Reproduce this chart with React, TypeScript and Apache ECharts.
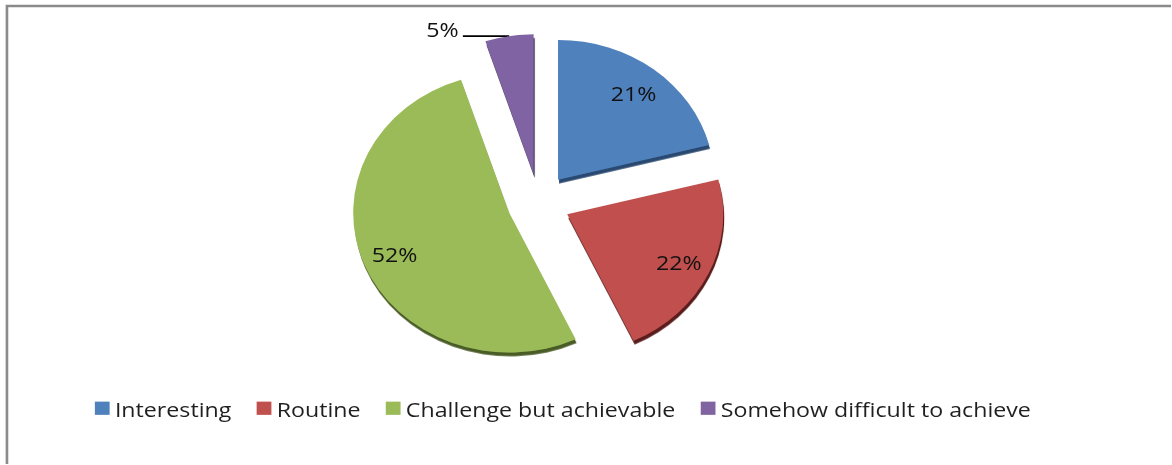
import React, { useEffect, useRef } from "react";
import * as echarts from "echarts";

const categories = [
  "Interesting",
  "Routine",
  "Challenge but achievable",
  "Somehow difficult to achieve",
];
const shares = [21, 22, 52, 5];
const sliceColors = ["#4F81BD", "#C0504D", "#9BBB59", "#8064A2"];
const shadowColors = ["#2c4a70", "#5a1e1c", "#4a5c26", "#2e2240"];

// the original picture is slightly stretched horizontally / squashed vertically
const SX = 1.054;
const SY = 0.945;
const CENTER = [511, 214];
const R = 148;
const OFFSET = 30;
const FONT = "'Open Sans', 'Noto Sans', sans-serif";

export default function App() {
  const ref = useRef<HTMLDivElement>(null);

  useEffect(() => {
    if (!ref.current) return;
    const chart = echarts.init(ref.current, undefined, { renderer: "svg" });

    const sliceData = categories.map((name, i) => ({
      name,
      value: shares[i],
      selected: true,
      itemStyle: {
        color: sliceColors[i],
        shadowColor: shadowColors[i],
        shadowOffsetX: 1,
        shadowOffsetY: 4,
        shadowBlur: 1,
      },
    }));

    const labelData = categories.map((name, i) => {
      const outside = i === 3;
      return {
        name,
        value: shares[i],
        selected: true,
        itemStyle: { color: "rgba(0,0,0,0)" },
        label: outside
          ? {
              position: "outside" as const,
              distanceToLabelLine: 4,
              formatter: "{p|{c}%}",
              rich: {
                p: {
                  fontFamily: FONT,
                  fontSize: 22,
                  color: "#111111",
                  padding: [0, 0, 16, 0],
                },
              },
            }
          : { position: "inside" as const },
        labelLine: outside
          ? {
              show: true,
              length: 0,
              length2: 44,
              lineStyle: { color: "#000", width: 2 },
            }
          : { show: false },
      };
    });

    chart.setOption({
      animation: false,
      backgroundColor: "#ffffff",
      graphic: [
        {
          type: "rect",
          shape: { x: 6.6, y: 6.3, width: 1400, height: 700 },
          style: { fill: "none", stroke: "#8a8a8a", lineWidth: 2.5 },
          silent: true,
          z: -10,
        },
      ],
      legend: {
        data: categories,
        left: 85,
        top: 416,
        icon: "rect",
        itemWidth: 14,
        itemHeight: 14,
        itemGap: 24,
        textStyle: { fontFamily: FONT, fontSize: 22, color: "#1f1f1f" },
        selectedMode: false,
      },
      series: [
        {
          type: "pie",
          center: CENTER,
          radius: [0, R],
          startAngle: 90,
          clockwise: true,
          selectedMode: "multiple",
          selectedOffset: OFFSET,
          avoidLabelOverlap: false,
          label: { show: false },
          labelLine: { show: false },
          emphasis: { disabled: true },
          data: sliceData,
        },
        {
          type: "pie",
          center: CENTER,
          radius: [R * 0.54, R],
          startAngle: 90,
          clockwise: true,
          silent: true,
          selectedMode: "multiple",
          selectedOffset: OFFSET,
          avoidLabelOverlap: false,
          emphasis: { disabled: true },
          label: {
            show: true,
            formatter: "{c}%",
            fontFamily: FONT,
            fontSize: 22,
            color: "#111111",
          },
          data: labelData,
        },
      ],
    });

    return () => chart.dispose();
  }, []);

  return (
    <div
      ref={ref}
      style={{
        position: "fixed",
        left: 0,
        top: 0,
        width: 1111,
        height: 491,
        background: "#fff",
        transform: `scale(${SX}, ${SY})`,
        transformOrigin: "0 0",
      }}
    />
  );
}
